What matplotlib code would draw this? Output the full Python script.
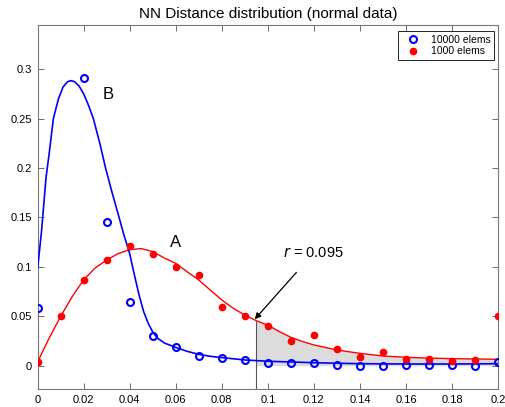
import numpy as np
import matplotlib
matplotlib.use("Agg")
import matplotlib.pyplot as plt

plt.rcParams['font.family'] = ['Liberation Sans', 'DejaVu Sans']

# sample points
x_pts = [0.00, 0.01, 0.02, 0.03, 0.04, 0.05, 0.06, 0.07, 0.08, 0.09, 0.10,
         0.11, 0.12, 0.13, 0.14, 0.15, 0.16, 0.17, 0.18, 0.19, 0.20]
blue_pts_x = [0.00, 0.02, 0.03, 0.04, 0.05, 0.06, 0.07, 0.08, 0.09, 0.10,
              0.11, 0.12, 0.13, 0.14, 0.15, 0.16, 0.17, 0.18, 0.19, 0.20]
blue_pts = [0.0587, 0.291, 0.1458, 0.0642, 0.0304, 0.0192, 0.0098, 0.0075, 0.0055, 0.003,
            0.003, 0.0024, 0.0007, 0.0, 0.0, 0.001, 0.0004, 0.0004, -0.0006, 0.0037]
red_pts = [0.0034, 0.0506, 0.0867, 0.107, 0.1211, 0.1127, 0.1002, 0.0918, 0.0594, 0.0503, 0.0402,
           0.025, 0.0307, 0.0166, 0.0085, 0.0135, 0.0065, 0.0065, 0.005, 0.0058, 0.0503]

# fitted curves
blue_cx = [0.0, 0.0017, 0.0036, 0.005, 0.0068, 0.009, 0.011, 0.013, 0.0145, 0.016, 0.018,
           0.020, 0.022, 0.0242, 0.027, 0.0295, 0.032, 0.035, 0.0375, 0.039, 0.040, 0.042,
           0.044, 0.046, 0.048, 0.050, 0.052, 0.055, 0.06, 0.065, 0.07, 0.075, 0.08, 0.09,
           0.10, 0.12, 0.14, 0.16, 0.18, 0.20]
blue_cy = [0.099, 0.137, 0.19, 0.215, 0.25, 0.270, 0.282, 0.2875, 0.2885, 0.2875, 0.283,
           0.275, 0.264, 0.25, 0.225, 0.200, 0.178, 0.153, 0.132, 0.121, 0.113, 0.092,
           0.072, 0.055, 0.043, 0.034, 0.028, 0.023, 0.0185, 0.0145, 0.0115, 0.0095, 0.0082, 0.0058,
           0.0045, 0.003, 0.002, 0.0017, 0.0017, 0.002]
red_cx = [0.0, 0.005, 0.01, 0.015, 0.02, 0.025, 0.03, 0.035, 0.04, 0.045, 0.05, 0.055,
          0.06, 0.065, 0.07, 0.075, 0.08, 0.085, 0.09, 0.095, 0.1, 0.105, 0.11, 0.115,
          0.12, 0.13, 0.14, 0.15, 0.16, 0.17, 0.18, 0.19, 0.2]
red_cy = [0.004, 0.028, 0.05, 0.07, 0.087, 0.099, 0.107, 0.1135, 0.1175, 0.1185, 0.1155, 0.109,
          0.1036, 0.095, 0.0867, 0.0765, 0.0665, 0.058, 0.0513, 0.0455, 0.041, 0.0345, 0.0287, 0.0245,
          0.021, 0.0159, 0.0125, 0.0098, 0.0085, 0.0077, 0.0071, 0.0068, 0.0065]

r_val = 0.095
xticks = [0, 0.02, 0.04, 0.06, 0.08, 0.1, 0.12, 0.14, 0.16, 0.18, 0.2]
xtick_labels = ['0', '0.02', '0.04', '0.06', '0.08', '0.1', '0.12', '0.14', '0.16', '0.18', '0.2']
yticks = [0, 0.05, 0.1, 0.15, 0.2, 0.25, 0.3]
ytick_labels = ['0', '0.05', '0.1', '0.15', '0.2', '0.25', '0.3']

fig = plt.figure(figsize=(5.06, 4.07), dpi=100, facecolor='white')
ax = fig.add_axes([0.0745, 0.0442, 0.9097, 0.8943])
ymin, ymax = -0.0236, 0.3448

# shaded tail area beyond r
rcx = np.array(red_cx)
rcy = np.array(red_cy)
m = rcx >= r_val
ax.fill_between(rcx[m], 0, rcy[m], color='#dcdcdc', linewidth=0, zorder=1)
ax.vlines(r_val, ymin, rcy[m][0], color='#555555', linewidth=0.8, zorder=2)

ax.plot(red_cx, red_cy, color='red', linewidth=1.0, zorder=3)
ax.plot(blue_cx, blue_cy, color='blue', linewidth=1.2, zorder=3)

ax.plot(blue_pts_x, blue_pts, 'o', mfc='none', mec='blue', mew=1.5, ms=5,
        label='10000 elems', zorder=4)
ax.plot(x_pts, red_pts, 'o', color='red', ms=4.5, label='1000 elems', zorder=4)

ax.text(0.0307, 0.274, 'B', fontsize=12, ha='center', va='center')
ax.text(0.0597, 0.125, 'A', fontsize=12, ha='center', va='center')
ax.annotate(r'$\it{r}$ = 0.095', xy=(0.0943, 0.047), xytext=(0.1198, 0.1138),
            fontsize=10.5, ha='center', va='center',
            arrowprops=dict(arrowstyle='-|>', color='black', lw=0.9,
                            mutation_scale=9, shrinkA=9, shrinkB=0))

ax.set_xlim(0, 0.2)
ax.set_ylim(ymin, ymax)
ax.set_xticks(xticks)
ax.set_xticklabels(xtick_labels)
ax.set_yticks(yticks)
ax.set_yticklabels(ytick_labels)
ax.tick_params(direction='in', top=True, right=True, length=4, width=0.6,
               color='#555555', labelsize=8, pad=4)
for s in ax.spines.values():
    s.set_color('#777777')
    s.set_linewidth(0.8)

ax.set_title('NN Distance distribution (normal data)', fontsize=11, pad=5)

leg = ax.legend(loc='upper right', bbox_to_anchor=(0.9913, 0.9835), borderaxespad=0,
                fontsize=7.5, fancybox=False, framealpha=1, edgecolor='black',
                handlelength=2.2, handletextpad=0.6, borderpad=0.35, labelspacing=0.15)
leg.get_frame().set_linewidth(0.6)

fig.savefig('out.png', dpi=100)
